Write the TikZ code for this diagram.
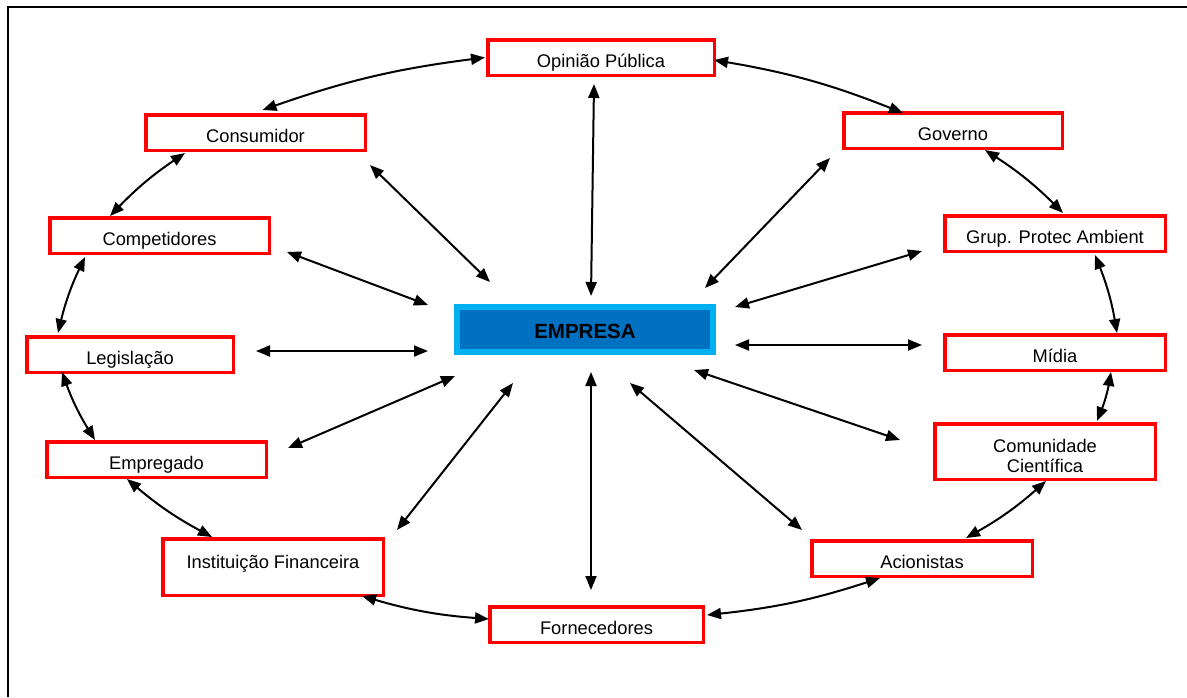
\documentclass[tikz,border=0pt]{standalone}
\usepackage{fontspec}
\setmainfont{Liberation Sans}
\usetikzlibrary{arrows.meta}
\definecolor{azulclaro}{RGB}{0,176,240}
\definecolor{azulescuro}{RGB}{0,112,192}
\begin{document}
\begin{tikzpicture}[x=1pt,y=-1pt,line cap=butt,line join=miter,>={Triangle[length=14pt,width=11pt]}]
				\tikzset{ente/.style={draw=red,line width=3.5pt,fill=white,inner sep=0pt,
						text height=27.75pt,text depth=7.75pt,font=\fontsize{18.3}{20.5}\selectfont},
					seta/.style={<->,line width=2pt},
					anel/.style={<->,line width=2pt,bend left=6}
				}
				\useasboundingbox (0,0) rectangle (1187,697);
				\draw[line width=2pt] (8,697) -- (8,7) -- (1187,7);
				\node[draw=azulclaro,fill=azulescuro,line width=6pt,inner sep=0pt,minimum width=256pt,
					text height=31.3pt,text depth=13.7pt,font=\fontsize{20.5}{24}\selectfont\bfseries] (empresa) at (585,329.5) {EMPRESA};
				\node[ente,minimum width=226.5pt] (opiniao) at (601,57.5) {Opinião Pública};
				\node[ente,minimum width=219.5pt] (consumidor) at (255.5,132.5) {Consumidor};
				\node[ente,minimum width=218.5pt] (governo) at (953,130.5) {Governo};
				\node[ente,minimum width=219.5pt] (competidores) at (159.5,235.5) {Competidores};
				\node[ente,minimum width=220.5pt] (grup) at (1055,233.5) {Grup. Protec Ambient};
				\node[ente,minimum width=206.5pt] (legislacao) at (130,354.5) {Legislação};
				\node[ente,minimum width=220.5pt] (midia) at (1055,352.5) {Mídia};
				\node[ente,minimum width=219.5pt] (empregado) at (156.5,459.5) {Empregado};
				\node[ente,minimum width=220.5pt,text height=28.25pt,text depth=27.25pt] (comunidade) at (1045,451.5) {\begin{tabular}[t]{@{}c@{}}Comunidade\\Científica\end{tabular}};
				\node[ente,minimum width=220.5pt,text height=29.25pt,text depth=27.25pt] (instituicao) at (273,567) {Instituição Financeira};
				\node[ente,minimum width=220.5pt] (acionistas) at (922,558.5) {Acionistas};
				\node[ente,minimum width=213.5pt] (fornecedores) at (596.5,624.5) {Fornecedores};
				\draw[seta] ([shift={(-7,7)}]opiniao.south) -- ([shift={(6,-33.5)}]empresa.center);
				\draw[seta] ([shift={(3,13)}]consumidor.south east) -- ([shift={(-95,-47.5)}]empresa.center);
				\draw[seta] ([shift={(-12,8)}]governo.south west) -- ([shift={(120,-41.5)}]empresa.center);
				\draw[seta] ([shift={(16,16.5)}]competidores.east) -- ([shift={(-157,-24.5)}]empresa.center);
				\draw[seta] ([shift={(-21,17.5)}]grup.west) -- ([shift={(150,-22.5)}]empresa.center);
				\draw[seta] ([shift={(21,-3.5)}]legislacao.east) -- ([shift={(-157,21.5)}]empresa.center);
				\draw[seta] ([shift={(-21,-7.5)}]midia.west) -- ([shift={(150,15.5)}]empresa.center);
				\draw[seta] ([shift={(20,-11.5)}]empregado.east) -- ([shift={(-130,46.5)}]empresa.center);
				\draw[seta] ([shift={(-33,-11.5)}]comunidade.west) -- ([shift={(109,40.5)}]empresa.center);
				\draw[seta] ([shift={(12,-7)}]instituicao.north east) -- ([shift={(-72,53.5)}]empresa.center);
				\draw[seta] ([shift={(-8,-9)}]acionistas.north west) -- ([shift={(45,53.5)}]empresa.center);
				\draw[seta] ([shift={(-5.5,-15)}]fornecedores.north) -- ([shift={(6,42.5)}]empresa.center);
				\draw[anel] ([shift={(7,-3)}]consumidor.north) to ([shift={(-1,0)}]opiniao.west);
				\draw[anel] ([shift={(-2,2.5)}]opiniao.east) to ([shift={(-50,2)}]governo.north);
				\draw[anel] ([shift={(-49.5,0)}]competidores.north) to ([shift={(-70.5,1)}]consumidor.south);
				\draw[anel] ([shift={(32,0)}]governo.south) to ([shift={(8,-1)}]grup.north);
				\draw[anel] ([shift={(33,-2)}]legislacao.north west) to ([shift={(37,2)}]competidores.south west);
				\draw[anel] ([shift={(40,2)}]grup.south) to ([shift={(62,0)}]midia.north);
				\draw[anel] ([shift={(50,0)}]empregado.north west) to ([shift={(37,-2)}]legislacao.south west);
				\draw[anel] ([shift={(56,0)}]midia.south) to ([shift={(52,-1)}]comunidade.north);
				\draw[anel] ([shift={(51,0)}]instituicao.north west) to ([shift={(82,0)}]empregado.south west);
				\draw[anel] ([shift={(1,0)}]comunidade.south) to ([shift={(44,-1)}]acionistas.north);
				\draw[anel] ([shift={(1,-5.5)}]fornecedores.west) to ([shift={(-23,-1)}]instituicao.south east);
				\draw[anel] ([shift={(-42,0)}]acionistas.south) to ([shift={(2,-9.5)}]fornecedores.east);
			\end{tikzpicture}
\end{document}
